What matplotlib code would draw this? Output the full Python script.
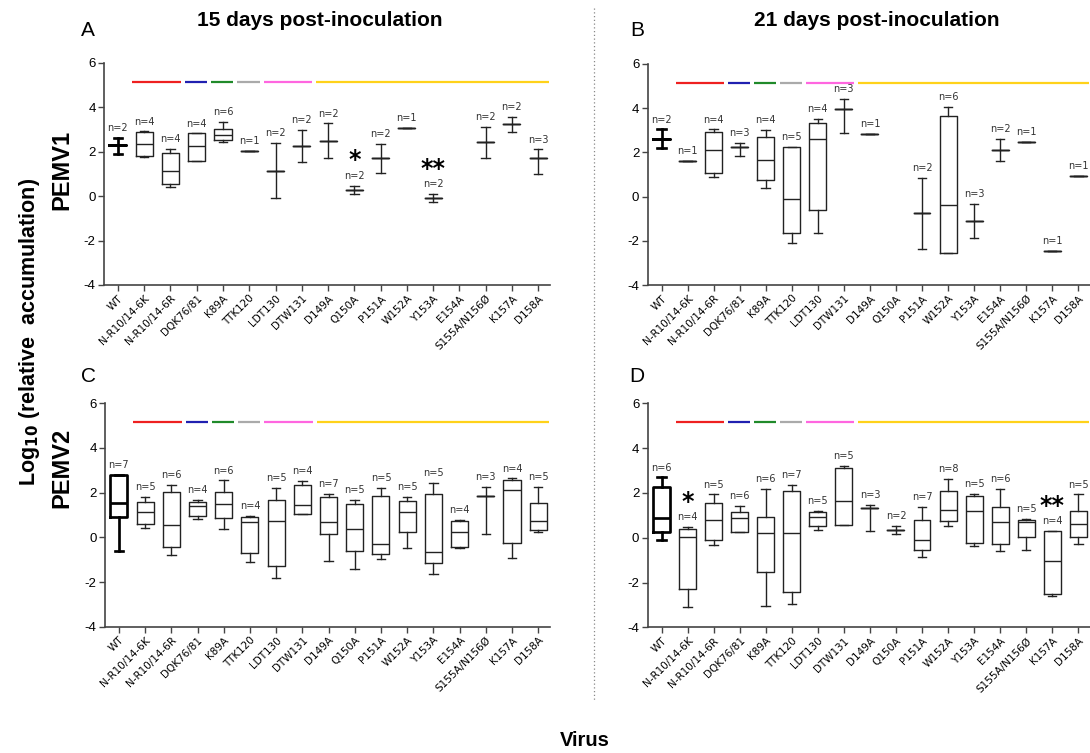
import numpy as np
import matplotlib
matplotlib.use("Agg")
import matplotlib.pyplot as plt

viruses = ["WT", "N-R10/14-6K", "N-R10/14-6R", "DQK76/81", "K89A", "TTK120", "LDT130",
           "DTW131", "D149A", "Q150A", "P151A", "W152A", "Y153A", "E154A",
           "S155A/N156\u00d8", "K157A", "D158A"]

nan = np.nan

# panel A: PEMV1, 15 dpi
a_n = [2, 4, 4, 4, 6, 1, 2, 2, 2, 2, 2, 1, 2, 0, 2, 2, 3]
a_lo = [1.91, 1.76, 0.41, 1.56, 2.45, 2.03, -0.10, 1.52, 1.70, 0.11, 1.05, 3.05, -0.28, nan, 1.73, 2.88, 1.01]
a_q1 = [2.28, 1.79, 0.54, 1.59, 2.54, 2.03, 1.11, 2.24, 2.48, 0.29, 1.73, 3.05, -0.10, nan, 2.42, 3.23, 1.70]
a_med = [2.28, 2.33, 1.14, 2.25, 2.76, 2.03, 1.11, 2.24, 2.48, 0.29, 1.73, 3.05, -0.10, nan, 2.42, 3.23, 1.70]
a_q3 = [2.28, 2.87, 1.92, 2.82, 3.03, 2.03, 1.11, 2.24, 2.48, 0.29, 1.73, 3.05, -0.10, nan, 2.42, 3.23, 1.70]
a_hi = [2.63, 2.91, 2.13, 2.82, 3.32, 2.03, 2.39, 2.97, 3.27, 0.47, 2.36, 3.05, 0.08, nan, 3.12, 3.57, 2.10]
a_stars = {9: "*", 12: "**"}

# panel B: PEMV1, 21 dpi
b_n = [2, 1, 4, 3, 4, 5, 4, 3, 1, 0, 2, 6, 3, 2, 1, 1, 1]
b_lo = [2.21, 1.60, 0.90, 1.82, 0.40, -2.11, -1.65, 2.86, 2.85, nan, -2.39, -2.57, -1.86, 1.61, 2.46, -2.45, 0.92]
b_q1 = [2.62, 1.60, 1.08, 2.23, 0.74, -1.63, -0.62, 3.98, 2.85, nan, -0.76, -2.54, -1.09, 2.11, 2.46, -2.45, 0.92]
b_med = [2.62, 1.60, 2.12, 2.23, 1.67, -0.12, 2.59, 3.98, 2.85, nan, -0.76, -0.37, -1.09, 2.11, 2.46, -2.45, 0.92]
b_q3 = [2.62, 1.60, 2.91, 2.23, 2.68, 2.23, 3.33, 3.98, 2.85, nan, -0.76, 3.66, -1.09, 2.11, 2.46, -2.45, 0.92]
b_hi = [3.04, 1.60, 3.04, 2.43, 3.03, 2.26, 3.53, 4.40, 2.85, nan, 0.84, 4.07, -0.32, 2.59, 2.46, -2.45, 0.92]
b_stars = {}

# panel C: PEMV2, 15 dpi
c_n = [7, 5, 6, 4, 6, 4, 5, 4, 7, 5, 5, 5, 5, 4, 3, 4, 5]
c_lo = [-0.61, 0.43, -0.81, 0.82, 0.36, -1.12, -1.81, 1.03, -1.06, -1.43, -0.99, -0.49, -1.63, -0.48, 0.16, -0.93, 0.24]
c_q1 = [0.93, 0.61, -0.43, 0.96, 0.85, -0.69, -1.27, 1.03, 0.13, -0.63, -0.75, 0.22, -1.16, -0.42, 1.84, -0.24, 0.31]
c_med = [1.54, 1.13, 0.55, 1.39, 1.51, 0.70, 0.75, 1.43, 0.69, 0.39, -0.28, 1.12, -0.64, 0.22, 1.84, 2.10, 0.75]
c_q3 = [2.81, 1.60, 2.04, 1.60, 2.04, 0.90, 1.69, 2.33, 1.82, 1.51, 1.85, 1.61, 1.93, 0.75, 1.84, 2.58, 1.55]
c_hi = [2.81, 1.79, 2.33, 1.69, 2.55, 0.96, 2.21, 2.51, 1.96, 1.66, 2.21, 1.79, 2.43, 0.79, 2.24, 2.64, 2.27]
c_stars = {}

# panel D: PEMV2, 21 dpi
d_n = [6, 4, 5, 6, 6, 7, 5, 5, 3, 2, 7, 8, 5, 6, 5, 4, 5]
d_lo = [-0.10, -3.09, -0.31, 0.25, -3.07, -2.96, 0.36, 0.57, 0.30, 0.15, -0.88, 0.51, -0.36, -0.61, -0.57, -2.60, -0.28]
d_q1 = [0.24, -2.30, -0.09, 0.27, -1.51, -2.43, 0.52, 0.57, 1.33, 0.33, -0.55, 0.76, -0.22, -0.27, 0.01, -2.51, 0.01]
d_med = [0.88, 0.04, 0.79, 0.87, 0.22, 0.22, 0.91, 1.66, 1.33, 0.33, -0.09, 1.25, 1.19, 0.69, 0.70, -1.04, 0.63]
d_q3 = [2.27, 0.39, 1.57, 1.16, 0.91, 2.07, 1.13, 3.09, 1.33, 0.33, 0.79, 2.07, 1.84, 1.36, 0.81, 0.28, 1.21]
d_hi = [2.69, 0.48, 1.93, 1.42, 2.16, 2.36, 1.19, 3.22, 1.46, 0.52, 1.39, 2.63, 1.96, 2.19, 0.84, 0.30, 1.93]
d_stars = {1: "*", 15: "**"}

# mutation groups (first index, last index, colour)
groups = [(1, 2, "#ee2020"), (3, 3, "#2020b0"), (4, 4, "#208a2a"), (5, 5, "#aaaaaa"),
          (6, 7, "#ff66e0"), (8, 16, "#ffd21a")]
group_y = 5.15

W, H = 1090, 753
fig = plt.figure(figsize=(W / 100, H / 100), dpi=100)


def px(x0, y0, x1, y1):
    return [x0 / W, 1 - y1 / H, (x1 - x0) / W, (y1 - y0) / H]


def draw_panel(rect, n, lo, q1, med, q3, hi, stars):
    ax = fig.add_axes(rect)
    stats, pos = [], []
    for i in range(len(viruses)):
        if n[i] == 0:
            continue
        stats.append(dict(whislo=lo[i], q1=q1[i], med=med[i], q3=q3[i], whishi=hi[i]))
        pos.append(i)
    line = dict(color="#222222", linewidth=1.0)
    ax.bxp(stats, positions=pos, widths=0.65, showfliers=False,
           boxprops=line, whiskerprops=line, capprops=line,
           medianprops=line, manage_ticks=False)
    # WT drawn heavier
    bold = dict(color="black", linewidth=1.9)
    ax.bxp([stats[0]], positions=[0], widths=0.65, showfliers=False,
           boxprops=bold, whiskerprops=bold, capprops=bold,
           medianprops=bold, manage_ticks=False)
    for i in range(len(viruses)):
        if n[i] == 0:
            continue
        ax.annotate("n=%d" % n[i], (i, hi[i]), xytext=(0, 3.5), textcoords="offset points",
                    ha="center", va="bottom", fontsize=7, color="#333333")
        if i in stars:
            ax.annotate(stars[i], (i, hi[i]), xytext=(0, 9.5), textcoords="offset points",
                        ha="center", va="bottom", fontsize=17, fontweight="bold")
    for g0, g1, col in groups:
        ax.plot([g0 - 0.45, g1 + 0.4], [group_y, group_y], color=col, lw=1.6,
                solid_capstyle="butt")
    ax.set_ylim(-4, 6)
    ax.set_xlim(-0.53, 16.45)
    ax.set_yticks([-4, -2, 0, 2, 4, 6])
    ax.set_yticklabels(["-4", "-2", "0", "2", "4", "6"], fontsize=9.5, family="Liberation Sans")
    ax.set_xticks(range(len(viruses)))
    ax.set_xticklabels(viruses, rotation=45, ha="right", rotation_mode="anchor", fontsize=7.5)
    for s in ["top", "right"]:
        ax.spines[s].set_visible(False)
    for s in ["left", "bottom"]:
        ax.spines[s].set_color("#444444")
        ax.spines[s].set_linewidth(1.2)
    ax.tick_params(length=4, width=1, color="#444444", pad=2)
    return ax


draw_panel(px(104, 62.7, 550, 285), a_n, a_lo, a_q1, a_med, a_q3, a_hi, a_stars)
draw_panel(px(647.7, 64, 1090, 285), b_n, b_lo, b_q1, b_med, b_q3, b_hi, b_stars)
draw_panel(px(105, 403.3, 550, 626.7), c_n, c_lo, c_q1, c_med, c_q3, c_hi, c_stars)
draw_panel(px(647.7, 403.3, 1090, 627.3), d_n, d_lo, d_q1, d_med, d_q3, d_hi, d_stars)

tf = dict(family="Liberation Sans", fontweight="bold", ha="center", va="center")
fig.text(320 / W, 1 - 20 / H, "15 days post-inoculation", fontsize=15, **tf)
fig.text(877 / W, 1 - 20 / H, "21 days post-inoculation", fontsize=15, **tf)
fig.text(62 / W, 1 - 170 / H, "PEMV1", rotation=90, fontsize=17, **tf)
fig.text(62 / W, 1 - 468 / H, "PEMV2", rotation=90, fontsize=17, **tf)
fig.text(30 / W, 1 - 332 / H, r"Log$_{\mathbf{10}}$ (relative  accumulation)", rotation=90,
         fontsize=15.5, **tf)
fig.text(585 / W, 1 - 741 / H, "Virus", fontsize=14.5, **tf)

lf = dict(family="Liberation Sans", fontsize=15, ha="center", va="center")
fig.text(88 / W, 1 - 30 / H, "A", **lf)
fig.text(637 / W, 1 - 30 / H, "B", **lf)
fig.text(88 / W, 1 - 376 / H, "C", **lf)
fig.text(637 / W, 1 - 376 / H, "D", **lf)

fig.add_artist(plt.Line2D([594 / W, 594 / W], [1 - 8 / H, 1 - 700 / H], color="#888888",
                          lw=0.9, linestyle=(0, (1, 2))))

fig.savefig("out.png", dpi=100)
